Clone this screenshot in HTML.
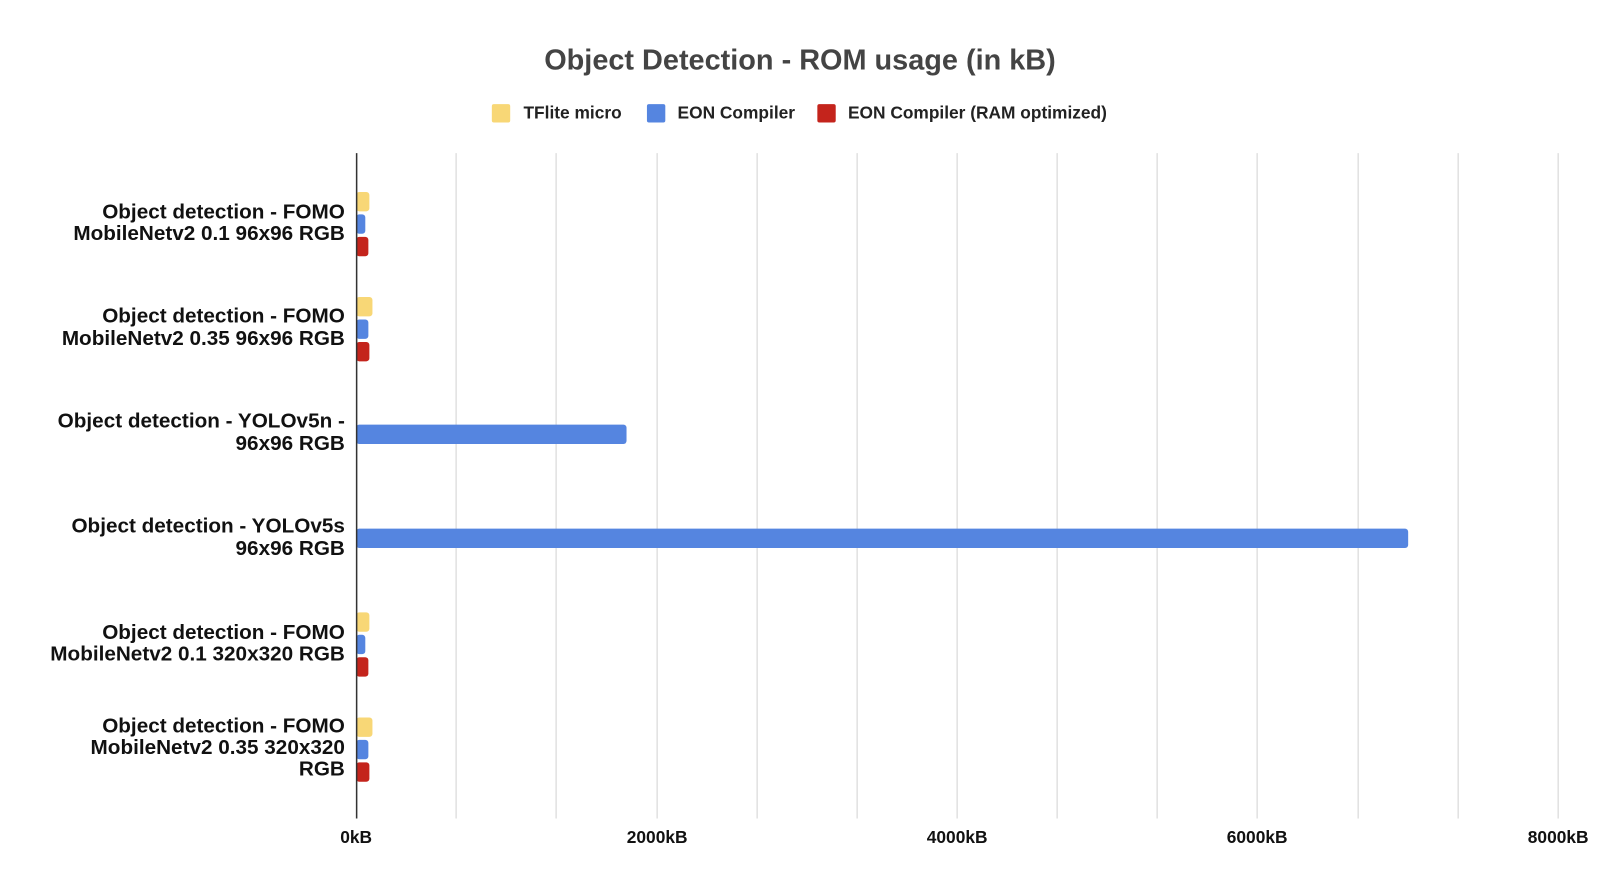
<!DOCTYPE html>
<html><head><meta charset="utf-8"><style>
html,body{margin:0;padding:0;background:#fff;}
svg{display:block;font-family:"Liberation Sans",Arial,sans-serif;}
</style></head><body>
<svg width="1600" height="890" viewBox="0 0 1568 872">
<text x="784" y="68" text-anchor="middle" font-size="28.3" font-weight="bold" fill="#444">Object Detection - ROM usage (in kB)</text>
<rect x="482" y="102" width="18" height="18" rx="2" fill="#f8d776"/>
<text x="513" y="116" font-size="17" font-weight="bold" fill="#222">TFlite micro</text>
<rect x="634" y="102" width="18" height="18" rx="2" fill="#5585e0"/>
<text x="664" y="116" font-size="17" font-weight="bold" fill="#222">EON Compiler</text>
<rect x="801" y="102" width="18" height="18" rx="2" fill="#c4241c"/>
<text x="831" y="116" font-size="17" font-weight="bold" fill="#222">EON Compiler (RAM optimized)</text>
<g stroke="#dcdcdc" stroke-width="1.3">
<line x1="447" y1="150" x2="447" y2="802"/><line x1="545" y1="150" x2="545" y2="802"/>
<line x1="644" y1="150" x2="644" y2="802"/><line x1="742" y1="150" x2="742" y2="802"/>
<line x1="840" y1="150" x2="840" y2="802"/><line x1="938" y1="150" x2="938" y2="802"/>
<line x1="1036" y1="150" x2="1036" y2="802"/><line x1="1134" y1="150" x2="1134" y2="802"/>
<line x1="1232" y1="150" x2="1232" y2="802"/><line x1="1331" y1="150" x2="1331" y2="802"/>
<line x1="1429" y1="150" x2="1429" y2="802"/><line x1="1527" y1="150" x2="1527" y2="802"/>
</g>
<g>
<rect x="349" y="188" width="13" height="19" rx="3" fill="#f8d776"/>
<rect x="349" y="210" width="9" height="19" rx="3" fill="#5585e0"/>
<rect x="349" y="232" width="12" height="19" rx="3" fill="#c4241c"/>

<rect x="349" y="291" width="16" height="19" rx="3" fill="#f8d776"/>
<rect x="349" y="313" width="12" height="19" rx="3" fill="#5585e0"/>
<rect x="349" y="335" width="13" height="19" rx="3" fill="#c4241c"/>

<rect x="349" y="416" width="265" height="19" rx="3" fill="#5585e0"/>
<rect x="349" y="518" width="1031" height="19" rx="3" fill="#5585e0"/>

<rect x="349" y="600" width="13" height="19" rx="3" fill="#f8d776"/>
<rect x="349" y="622" width="9" height="19" rx="3" fill="#5585e0"/>
<rect x="349" y="644" width="12" height="19" rx="3" fill="#c4241c"/>

<rect x="349" y="703" width="16" height="19" rx="3" fill="#f8d776"/>
<rect x="349" y="725" width="12" height="19" rx="3" fill="#5585e0"/>
<rect x="349" y="747" width="13" height="19" rx="3" fill="#c4241c"/>
</g>
<line x1="349.5" y1="150" x2="349.5" y2="802" stroke="#333" stroke-width="1.5"/>
<g font-size="20.3" font-weight="bold" fill="#111" text-anchor="end">
<text x="338" y="214">Object detection - FOMO</text>
<text x="338" y="235">MobileNetv2 0.1 96x96 RGB</text>
<text x="338" y="316">Object detection - FOMO</text>
<text x="338" y="338">MobileNetv2 0.35 96x96 RGB</text>
<text x="338" y="419">Object detection - YOLOv5n -</text>
<text x="338" y="441">96x96 RGB</text>
<text x="338" y="522">Object detection - YOLOv5s</text>
<text x="338" y="544">96x96 RGB</text>
<text x="338" y="626">Object detection - FOMO</text>
<text x="338" y="647">MobileNetv2 0.1 320x320 RGB</text>
<text x="338" y="718">Object detection - FOMO</text>
<text x="338" y="739">MobileNetv2 0.35 320x320</text>
<text x="338" y="760">RGB</text>
</g>
<g font-size="17" font-weight="bold" fill="#111" text-anchor="middle">
<text x="349" y="826">0kB</text>
<text x="644" y="826">2000kB</text>
<text x="938" y="826">4000kB</text>
<text x="1232" y="826">6000kB</text>
<text x="1527" y="826">8000kB</text>
</g>
</svg>
</body></html>
